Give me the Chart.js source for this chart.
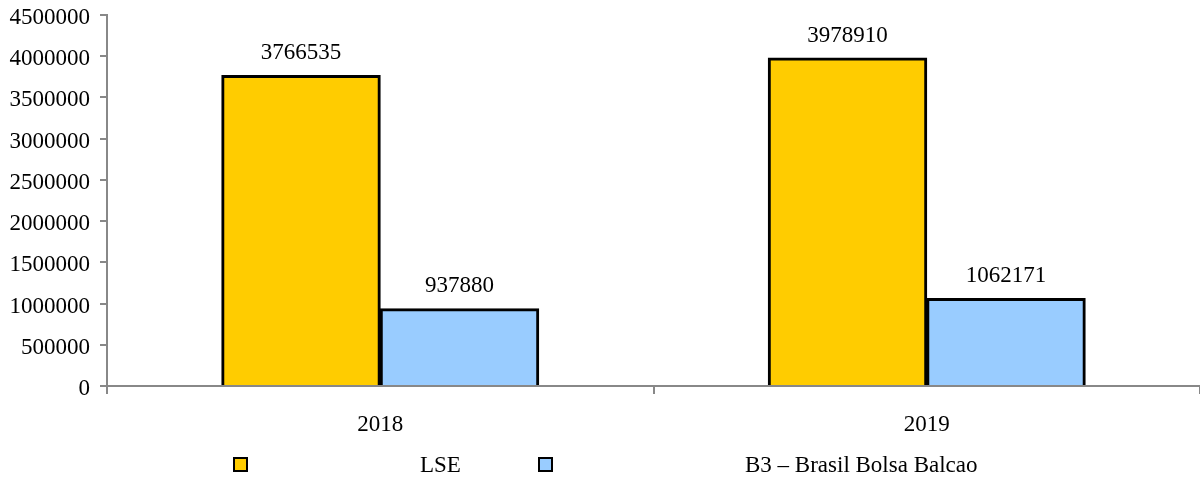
<!DOCTYPE html>
<html>
<head>
<meta charset="utf-8">
<script src="https://cdn.jsdelivr.net/npm/chart.js@4"></script>
<style>
    html, body { margin: 0; padding: 0; background: #fff; }
    #wrap { position: relative; width: 1200px; height: 478px; }
    #legend { position: absolute; left: 0; top: 0; width: 1200px; height: 478px; pointer-events: none;
        font-family: "Liberation Serif", "Times New Roman", serif; font-size: 23px; color: #000; }
    #legend .box { position: absolute; width: 11px; height: 11px; border: 2px solid #000; }
    #legend .txt { position: absolute; white-space: nowrap; line-height: 23px; }
</style>
</head>
<body>
<div id="wrap">
    <canvas id="chart" width="1200" height="478"></canvas>
    <div id="legend"></div>
</div>
<script>
var years = ["2018", "2019"];
var seriesNames = ["LSE", "B3 – Brasil Bolsa Balcao"];
var lseValues = [3766535, 3978910];
var b3Values = [937880, 1062171];
var yTicks = [0, 500000, 1000000, 1500000, 2000000, 2500000, 3000000, 3500000, 4000000, 4500000];

var fontFamily = '"Liberation Serif", "Times New Roman", serif';
var axisGray = "#888888";

// draws the value above each bar
var valueLabels = {
    id: "valueLabels",
    afterDatasetsDraw: function(chart){
        var ctx = chart.ctx;
        ctx.save();
        ctx.font = "23px " + fontFamily;
        ctx.fillStyle = "#000";
        ctx.textAlign = "center";
        ctx.textBaseline = "bottom";
        chart.data.datasets.forEach(function(ds, i){
            chart.getDatasetMeta(i).data.forEach(function(bar, j){
                ctx.fillText(String(ds.data[j]), bar.x, bar.y - 11);
            });
        });
        ctx.restore();
    }
};

var chart = new Chart(document.getElementById("chart"), {
    type: "bar",
    data: {
        labels: years,
        datasets: [{
            label: seriesNames[0],
            data: lseValues,
            backgroundColor: "#FFCC00",
            borderColor: "#000",
            borderWidth: 3,
            borderSkipped: "bottom",
            inflateAmount: 0.5
        }, {
            label: seriesNames[1],
            data: b3Values,
            backgroundColor: "#99CCFF",
            borderColor: "#000",
            borderWidth: 3,
            borderSkipped: "bottom",
            inflateAmount: 0.5
        }]
    },
    options: {
        responsive: false,
        animation: false,
        layout: { padding: { top: 15, right: 0, bottom: 40, left: 0 } },
        datasets: { bar: { categoryPercentage: 0.58, barPercentage: 1.0 } },
        plugins: {
            legend: { display: false },
            tooltip: { enabled: false }
        },
        scales: {
            x: {
                offset: true,
                grid: { offset: true, drawOnChartArea: false, drawTicks: true, tickLength: 8, color: axisGray, lineWidth: 2 },
                border: { color: axisGray, width: 2 },
                ticks: { color: "#000", font: { family: fontFamily, size: 23 }, padding: 17 },
                afterFit: function(scale){ scale.height = 478 - 40 - 386; }
            },
            y: {
                min: 0,
                max: 4500000,
                afterBuildTicks: function(scale){
                    scale.ticks = yTicks.map(function(v){ return { value: v }; });
                },
                grid: { drawOnChartArea: false, drawTicks: true, tickLength: 7, color: axisGray, lineWidth: 2 },
                border: { color: axisGray, width: 2 },
                ticks: {
                    color: "#000",
                    font: { family: fontFamily, size: 23 },
                    padding: 10,
                    labelOffset: 3,
                    callback: function(v){ return String(v); }
                },
                afterFit: function(scale){
                    scale.width = 107;
                    scale.paddingTop = 0;
                    scale.paddingBottom = 0;
                }
            }
        }
    },
    plugins: [valueLabels]
});

// legend drawn as html, spread like the original
var legendPos = [[233, 420], [538, 745]];
var legendEl = document.getElementById("legend");
chart.data.datasets.forEach(function(ds, i){
    var box = document.createElement("div");
    box.className = "box";
    box.style.left = legendPos[i][0] + "px";
    box.style.top = "457px";
    box.style.background = ds.backgroundColor;
    legendEl.appendChild(box);
    var txt = document.createElement("div");
    txt.className = "txt";
    txt.style.left = legendPos[i][1] + "px";
    txt.style.top = "453px";
    txt.textContent = ds.label;
    legendEl.appendChild(txt);
});
</script>
</body>
</html>
